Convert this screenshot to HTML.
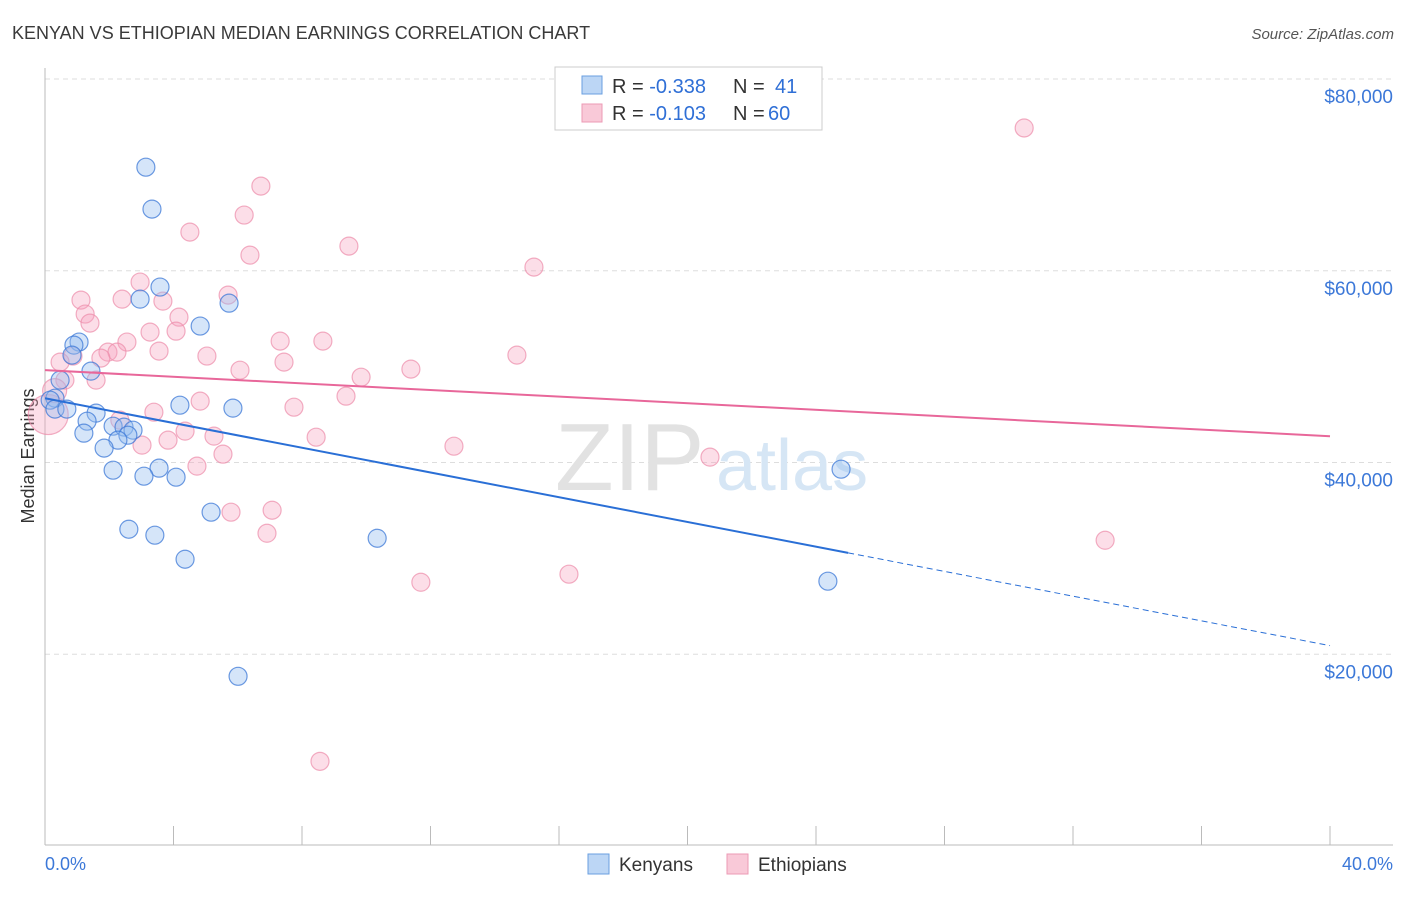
<!DOCTYPE html>
<html><head><meta charset="utf-8"><style>
body{margin:0;background:#fff;font-family:"Liberation Sans",sans-serif;}
svg text{font-family:"Liberation Sans",sans-serif;}
</style></head><body>
<svg id="chart" width="1406" height="892" xmlns="http://www.w3.org/2000/svg">
<text x="12" y="39" font-size="18" fill="#3a3a3a">KENYAN VS ETHIOPIAN MEDIAN EARNINGS CORRELATION CHART</text>
<text x="1394" y="39" font-size="15" fill="#555" font-style="italic" text-anchor="end">Source: ZipAtlas.com</text>
<g id="grid"></g>
<g>
<text x="555" y="490" font-size="96" fill="#e2e2e2" font-family="Liberation Serif">ZIP</text>
<text x="716" y="490" font-size="72" fill="#d6e6f5">atlas</text>
</g>
<line x1="45" y1="68" x2="45" y2="845" stroke="#bbb"/>
<line x1="45" y1="845" x2="1393" y2="845" stroke="#bbb"/>
<g id="ticks"></g>
<g id="ylabels"></g>
<text transform="translate(34,456) rotate(-90)" font-size="18" fill="#333" text-anchor="middle">Median Earnings</text>
<text x="45" y="870" font-size="18" fill="#3c78d8">0.0%</text>
<text x="1393" y="870" font-size="18" fill="#3c78d8" text-anchor="end">40.0%</text>
<g id="pink"></g>
<g id="blue"></g>
<g id="trend"></g>
<g>
<rect x="555" y="67" width="267" height="63" fill="#fff" stroke="#ccc"/>
<rect x="582" y="76" width="20" height="18" fill="#bcd6f5" stroke="#6a9fe0"/>
<rect x="582" y="104" width="20" height="18" fill="#f9c9d8" stroke="#ec9ab5"/>
<text x="612" y="93" font-size="20" fill="#333">R = <tspan fill="#2f6fd6">-0.338</tspan><tspan x="733">N = </tspan><tspan fill="#2f6fd6" x="775">41</tspan></text>
<text x="612" y="120" font-size="20" fill="#333">R = <tspan fill="#2f6fd6">-0.103</tspan><tspan x="733">N = </tspan><tspan fill="#2f6fd6" x="768">60</tspan></text>
</g>
<g>
<rect x="588" y="854" width="21" height="20" fill="#bcd6f5" stroke="#6a9fe0"/>
<text x="619" y="871" font-size="19" fill="#333">Kenyans</text>
</g>
<g>
<rect x="727" y="854" width="21" height="20" fill="#f9c9d8" stroke="#ec9ab5"/>
<text x="758" y="871" font-size="19" fill="#333">Ethiopians</text>
</g>
</svg>
<script>
const yTicks=[20000,40000,60000,80000];
const yTickLabels=["$20,000","$40,000","$60,000","$80,000"];
const xTicks=[0,4,8,12,16,20,24,28,32,36,40];
const kenX=[3.14,3.33,3.58,2.96,5.73,4.83,1.06,0.90,0.84,1.43,0.47,0.31,0.16,0.31,0.68,4.20,5.85,1.59,1.31,2.12,2.46,2.74,2.58,1.21,2.27,1.84,3.55,2.12,3.08,4.08,5.17,2.61,3.42,10.34,4.36,24.78,24.37,6.01];
const kenY=[70800,66430,58300,57040,56620,54230,52560,52240,51200,49530,48590,46710,46500,45570,45570,45980,45670,45150,44310,43790,43690,43370,42850,43060,42330,41500,39410,39200,38570,38470,34820,33040,32420,32100,29910,39300,27620,17700];
const ethX=[30.48,6.72,6.20,4.51,9.46,6.38,15.22,2.96,1.12,2.40,5.70,3.67,1.25,4.17,1.40,3.27,4.08,2.55,1.96,3.55,2.24,5.04,14.69,0.87,1.74,0.47,7.44,7.32,8.65,6.07,11.39,0.62,1.59,9.84,9.37,4.83,7.75,3.39,2.33,4.36,5.26,8.44,3.83,12.73,3.02,5.54,20.70,4.73,5.79,7.07,6.91,33.00,11.70,16.31,8.56,0.1,0.3];
const ethY=[74890,68830,65810,64030,62570,61630,60380,58820,56940,57040,57460,56830,55480,55160,54540,53600,53700,52560,51510,51620,51510,51100,51200,51100,50890,50470,50470,52660,52660,49630,49740,48590,48590,48900,46920,46400,45770,45250,44420,43270,42750,42640,42330,41700,41810,40870,40560,39620,34820,35020,32620,31890,27510,28350,8830,45000,47500];
const ethR=[9,9,9,9,9,9,9,9,9,9,9,9,9,9,9,9,9,9,9,9,9,9,9,9,9,9,9,9,9,9,9,9,9,9,9,9,9,9,9,9,9,9,9,9,9,9,9,9,9,9,9,9,9,9,9,20,12];
const kenTrend=[46700,-645];
const ethTrend=[49630,-172.2];
const X=v=>45+v/40*1285;
const Y=v=>846-v/20000*191.75;
const NS="http://www.w3.org/2000/svg";
function mk(p,t,a){const e=document.createElementNS(NS,t);for(const k in a)e.setAttribute(k,a[k]);p.appendChild(e);return e;}
const grid=document.getElementById('grid'),yl=document.getElementById('ylabels');
yTicks.forEach((v,i)=>{
 const l=mk(grid,'line',{x1:45,x2:1393,y1:Y(v),y2:Y(v),stroke:'#ddd','stroke-dasharray':'5,4'});
 
 
 const t=mk(yl,'text',{x:1393,y:Y(v)+24,'font-size':19,fill:'#3c78d8','text-anchor':'end'});
 t.textContent=yTickLabels[i];
 
 
});
mk(grid,'line',{x1:45,x2:1393,y1:79,y2:79,stroke:'#ddd','stroke-dasharray':'5,4'});
const tk=document.getElementById('ticks');
xTicks.forEach(v=>{const l=mk(tk,'line',{x1:X(v),x2:X(v),y1:826,y2:845,stroke:'#bbb'});
 
 });
const pk=document.getElementById('pink');
ethX.forEach((v,i)=>{const c=mk(pk,'circle',{cx:X(v),cy:Y(ethY[i]),r:ethR[i],fill:'rgba(245,160,190,0.35)',stroke:'rgba(236,140,170,0.7)','stroke-width':1.2});
 
 });
const bl=document.getElementById('blue');
kenX.forEach((v,i)=>{const c=mk(bl,'circle',{cx:X(v),cy:Y(kenY[i]),r:9,fill:'rgba(150,190,240,0.4)',stroke:'rgba(60,120,215,0.75)','stroke-width':1.2});
 
 });
const tr=document.getElementById('trend');
const kf=x=>kenTrend[0]+kenTrend[1]*x, ef=x=>ethTrend[0]+ethTrend[1]*x;
const a=mk(tr,'line',{x1:X(0),y1:Y(kf(0)),x2:X(25),y2:Y(kf(25)),stroke:'#2a6fd6','stroke-width':2});


const b=mk(tr,'line',{x1:X(25),y1:Y(kf(25)),x2:X(40),y2:Y(kf(40)),stroke:'#2a6fd6','stroke-width':1,'stroke-dasharray':'6,4'});


const c=mk(tr,'line',{x1:X(0),y1:Y(ef(0)),x2:X(40),y2:Y(ef(40)),stroke:'#e8679a','stroke-width':2});


</script>
</body></html>
